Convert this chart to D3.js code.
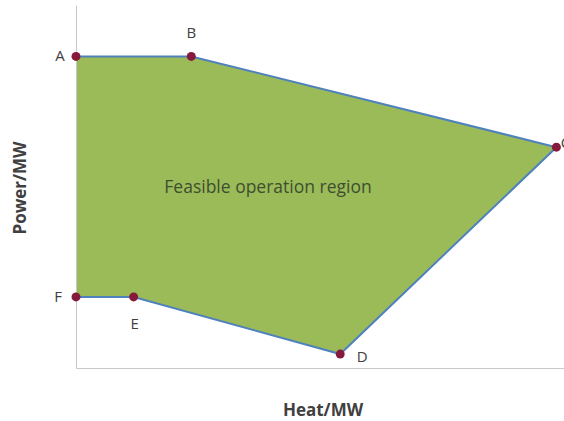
<!DOCTYPE html>
<html lang="en">
<meta charset="utf-8">
<title>Feasible operation region</title>
<script src="https://d3js.org/d3.v7.min.js"></script>
<style>
  body { margin: 0; background: #fff; }
  text { font-family: "Open Sans", "Liberation Sans", sans-serif; }
</style>
<svg width="564" height="421"></svg>
<script>
// corner points of the operating region (heat, power in MW)
var names = ["A", "B", "C", "D", "E", "F"];
var heat  = [0, 24, 100, 55, 12, 0];
var power = [103, 103, 73, 4.6, 23.5, 23.5];

var svg = d3.select("svg");

var x = d3.scaleLinear().domain([0, 102]).range([76, 566]);
var y = d3.scaleLinear().domain([0, 120]).range([368, 5]);

var pts = names.map(function(n, i) { return {name: n, h: heat[i], p: power[i]}; });

// filled region
svg.append("path")
    .datum(pts)
    .attr("d", d3.line().x(function(d) { return x(d.h); }).y(function(d) { return y(d.p); }).curve(d3.curveLinearClosed))
    .attr("fill", "#9bbb59");

// axes (plain lines, no ticks)
svg.append("g")
    .attr("transform", "translate(0," + y(0) + ")")
    .call(d3.axisBottom(x).tickValues([]).tickSizeOuter(0))
    .select(".domain").attr("stroke", "#c8c8c8");
svg.append("g")
    .attr("transform", "translate(" + x(0) + ",0)")
    .call(d3.axisLeft(y).tickValues([]).tickSizeOuter(0))
    .select(".domain").attr("stroke", "#c8c8c8");

// boundary line
svg.append("path")
    .datum(pts)
    .attr("d", d3.line().x(function(d) { return x(d.h); }).y(function(d) { return y(d.p); }))
    .attr("fill", "none")
    .attr("stroke", "#4f81bd")
    .attr("stroke-width", 2);

// markers
svg.selectAll("circle.pt")
    .data(pts)
    .enter().append("circle")
    .attr("class", "pt")
    .attr("cx", function(d) { return x(d.h); })
    .attr("cy", function(d) { return y(d.p); })
    .attr("r", 4.5)
    .attr("fill", "#861a3c");

// point labels (C sits at the right edge, partly cut like the original)
var off = {A: [-16, 5], B: [0, -18], C: [9, 1], D: [22, 8], E: [1, 32], F: [-18, 5]};
svg.selectAll("text.lbl")
    .data(pts)
    .enter().append("text")
    .attr("class", "lbl")
    .attr("x", function(d) { return x(d.h) + off[d.name][0]; })
    .attr("y", function(d) { return y(d.p) + off[d.name][1]; })
    .attr("text-anchor", "middle")
    .attr("font-size", 15)
    .attr("fill", "#404040")
    .text(function(d) { return d.name; });

svg.append("text")
    .attr("x", 268)
    .attr("y", 193)
    .attr("text-anchor", "middle")
    .attr("font-size", 17.5)
    .attr("fill", "#3e4e30")
    .text("Feasible operation region");

svg.append("text")
    .attr("x", 323)
    .attr("y", 416)
    .attr("text-anchor", "middle")
    .attr("font-size", 17)
    .attr("font-weight", "bold")
    .attr("fill", "#404040")
    .text("Heat/MW");

svg.append("text")
    .attr("transform", "translate(26,188) rotate(-90)")
    .attr("text-anchor", "middle")
    .attr("font-size", 17)
    .attr("font-weight", "bold")
    .attr("fill", "#404040")
    .text("Power/MW");
</script>
</html>
